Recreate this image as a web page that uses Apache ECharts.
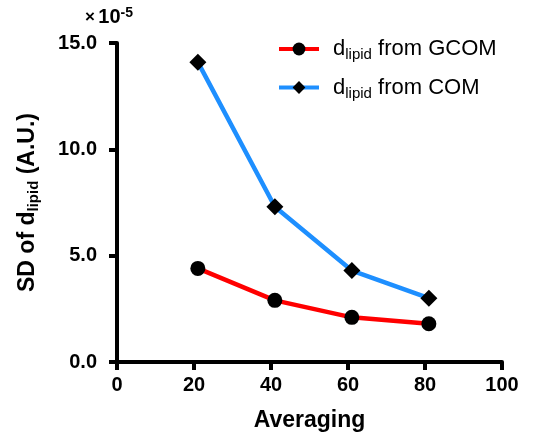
<!DOCTYPE html>
<html>
<head>
<meta charset="utf-8">
<script src="https://cdn.jsdelivr.net/npm/echarts@6/dist/echarts.min.js"></script>
<style>
  html, body { margin: 0; padding: 0; background: #fff; }
  #chart { width: 534px; height: 439px; }
</style>
</head>
<body>
<div id="chart"></div>
<script>
(function () {
    // data
    var averaging = [21, 41, 61, 81];
    var gcomValues = [4.4, 2.9, 2.1, 1.8];
    var comValues = [14.1, 7.3, 4.3, 3.0];
    var seriesNames = ['GCOM', 'COM'];

    var font = 'Liberation Sans, Arial, sans-serif';
    var subRich = {
        p: { fontFamily: font, fontSize: 22, color: '#000', padding: [0, 0, 0, 9] },
        a: { fontFamily: font, fontSize: 22, color: '#000' },
        sub: { fontFamily: font, fontSize: 15, color: '#000', verticalAlign: 'bottom', padding: [12, 0, 0, 0] }
    };

    function pairs(ys) {
        var out = [];
        for (var i = 0; i < averaging.length; i++) {
            out.push([averaging[i], ys[i]]);
        }
        return out;
    }

    var myChart = echarts.init(document.getElementById('chart'));
    var option = {
        animation: false,
        backgroundColor: '#fff',
        grid: { left: 117, right: 32, top: 43, bottom: 77 },
        legend: {
            orient: 'vertical',
            left: 272,
            top: 33,
            itemWidth: 40,
            itemHeight: 16,
            itemGap: 14,
            data: seriesNames,
            lineStyle: { width: 4 },
            formatter: function (name) {
                return '{p|d}{sub|lipid}{a| from ' + name + '}';
            },
            textStyle: { rich: subRich }
        },
        xAxis: {
            type: 'value',
            min: 0,
            max: 100,
            interval: 20,
            name: 'Averaging',
            nameLocation: 'middle',
            nameGap: 47,
            nameTextStyle: { fontFamily: font, fontSize: 23, fontWeight: 'bold', color: '#000' },
            axisLine: { lineStyle: { color: '#000', width: 4 } },
            axisTick: { length: 8, lineStyle: { color: '#000', width: 4 } },
            axisLabel: { margin: 13, fontFamily: font, fontSize: 20, fontWeight: 'bold', color: '#000' },
            splitLine: { show: false }
        },
        yAxis: {
            type: 'value',
            min: 0,
            max: 15,
            interval: 5,
            name: '{b|SD of d}{bs|lipid}{b| (A.U.)}',
            nameLocation: 'middle',
            nameGap: 76,
            nameTextStyle: {
                rich: {
                    b: { fontFamily: font, fontSize: 23, fontWeight: 'bold', color: '#000' },
                    bs: { fontFamily: font, fontSize: 15, fontWeight: 'bold', color: '#000', verticalAlign: 'bottom', padding: [12, 0, 0, 0] }
                }
            },
            axisLine: { show: true, lineStyle: { color: '#000', width: 4 } },
            axisTick: { show: true, length: 8, lineStyle: { color: '#000', width: 4 } },
            axisLabel: {
                margin: 20,
                fontFamily: font, fontSize: 20, fontWeight: 'bold', color: '#000',
                formatter: function (v) { return v.toFixed(1); }
            },
            splitLine: { show: false }
        },
        graphic: [{
            type: 'text',
            left: 85,
            top: 6,
            style: {
                text: '{x|×} {t|10}{s|-5}',
                rich: {
                    x: { fontFamily: font, fontSize: 17, fontWeight: 'bold', fill: '#000' },
                    t: { fontFamily: font, fontSize: 20, fontWeight: 'bold', fill: '#000' },
                    s: { fontFamily: font, fontSize: 14, fontWeight: 'bold', fill: '#000', verticalAlign: 'top', padding: [0, 0, 9, 0] }
                }
            }
        }],
        series: [{
            name: 'GCOM',
            type: 'line',
            data: pairs(gcomValues),
            symbol: 'circle',
            symbolSize: 15,
            itemStyle: { color: '#000' },
            lineStyle: { color: '#ff0000', width: 4.5 }
        }, {
            name: 'COM',
            type: 'line',
            data: pairs(comValues),
            symbol: 'diamond',
            symbolSize: [17, 17],
            itemStyle: { color: '#000' },
            lineStyle: { color: '#1e8fff', width: 4.5 }
        }]
    };
    myChart.setOption(option);
})();
</script>
</body>
</html>
